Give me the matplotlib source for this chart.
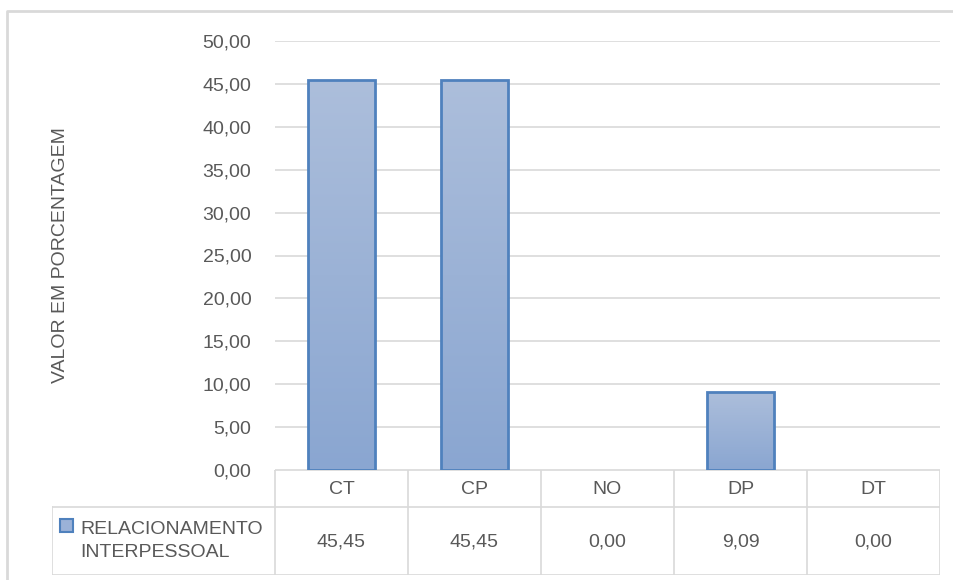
import matplotlib.pyplot as plt
import numpy as np
from matplotlib.colors import LinearSegmentedColormap
from matplotlib.patches import Rectangle

categories = ["CT", "CP", "NO", "DP", "DT"]
values = [45.45, 45.45, 0.00, 9.09, 0.00]
series_name = "RELACIONAMENTO\nINTERPESSOAL"
y_ticks = [0, 5, 10, 15, 20, 25, 30, 35, 40, 45, 50]
y_label = "VALOR EM PORCENTAGEM"

plt.rcParams['font.family'] = ['Liberation Sans', 'DejaVu Sans']
text_color = "#595959"
grid_color = "#d9d9d9"
edge_color = "#4f81bd"
fs = 14

W, H = 954, 580
fig = plt.figure(figsize=(W / 100, H / 100), dpi=100)

def px(x0, y0, x1, y1):
    return [x0 / W, 1 - y1 / H, (x1 - x0) / W, (y1 - y0) / H]

ax = fig.add_axes(px(275, 41, 940, 470))
x = np.arange(len(categories))

ax.set_yticks(y_ticks)
ax.set_yticklabels([f"{v:.2f}".replace(".", ",") for v in y_ticks],
                   fontsize=fs, color=text_color)
ax.tick_params(axis="y", length=0, pad=17)
ax.set_xticks([])
for s in ax.spines.values():
    s.set_visible(False)
ax.grid(axis="y", color=grid_color, linewidth=1.2)
ax.set_axisbelow(True)

# vertical gradient fill clipped to each bar
cmap = LinearSegmentedColormap.from_list("bar", ["#8aa6d1", "#acbedb"])
grad = np.linspace(0, 1, 256).reshape(-1, 1)
bars = ax.bar(x, values, width=0.5, color="none", edgecolor=edge_color,
              linewidth=2, zorder=3)
for b, v in zip(bars, values):
    if v <= 0:
        b.set_visible(False)
        continue
    im = ax.imshow(grad, cmap=cmap, origin="lower", aspect="auto",
                   extent=(b.get_x(), b.get_x() + b.get_width(), 0, v),
                   zorder=2)
    im.set_clip_path(b)
ax.set_xlim(-0.5, len(categories) - 0.5)
ax.set_ylim(0, 50)

ax.set_ylabel(y_label, fontsize=fs, color=text_color)
ax.yaxis.set_label_coords(-0.31, 0.5)

# data table under the plot
tab = fig.add_axes(px(52, 470, 940, 575))
tab.set_xlim(52, 940)
tab.set_ylim(575, 470)
tab.axis("off")
col_w = (940 - 275) / len(categories)
lc = dict(color=grid_color, linewidth=1.2)
tab.plot([275, 940], [470, 470], **lc)
tab.plot([52, 940], [507, 507], **lc)
tab.plot([52, 940], [575, 575], **lc)
tab.plot([52, 52], [507, 575], **lc)
for i in range(len(categories) + 1):
    xx = 275 + i * col_w
    tab.plot([xx, xx], [470, 575], **lc)
for i, (c, v) in enumerate(zip(categories, values)):
    cx = 275 + (i + 0.5) * col_w
    tab.text(cx, 489, c, ha="center", va="center", fontsize=fs, color=text_color)
    tab.text(cx, 542, f"{v:.2f}".replace(".", ","), ha="center", va="center",
             fontsize=fs, color=text_color)
tab.add_patch(Rectangle((60, 519), 13, 13, facecolor="#9bb2d8",
                        edgecolor=edge_color, linewidth=1.5))
tab.text(80, 541, series_name, ha="left", va="center", fontsize=fs,
         color=text_color, linespacing=1.45)

# chart frame
frame = fig.add_axes([0, 0, 1, 1])
frame.set_xlim(0, W)
frame.set_ylim(H, 0)
frame.axis("off")
frame.plot([7, 7, W + 5], [H + 5, 11, 11], color=grid_color, linewidth=2)
frame.patch.set_alpha(0)

fig.savefig("out.png", dpi=100)
